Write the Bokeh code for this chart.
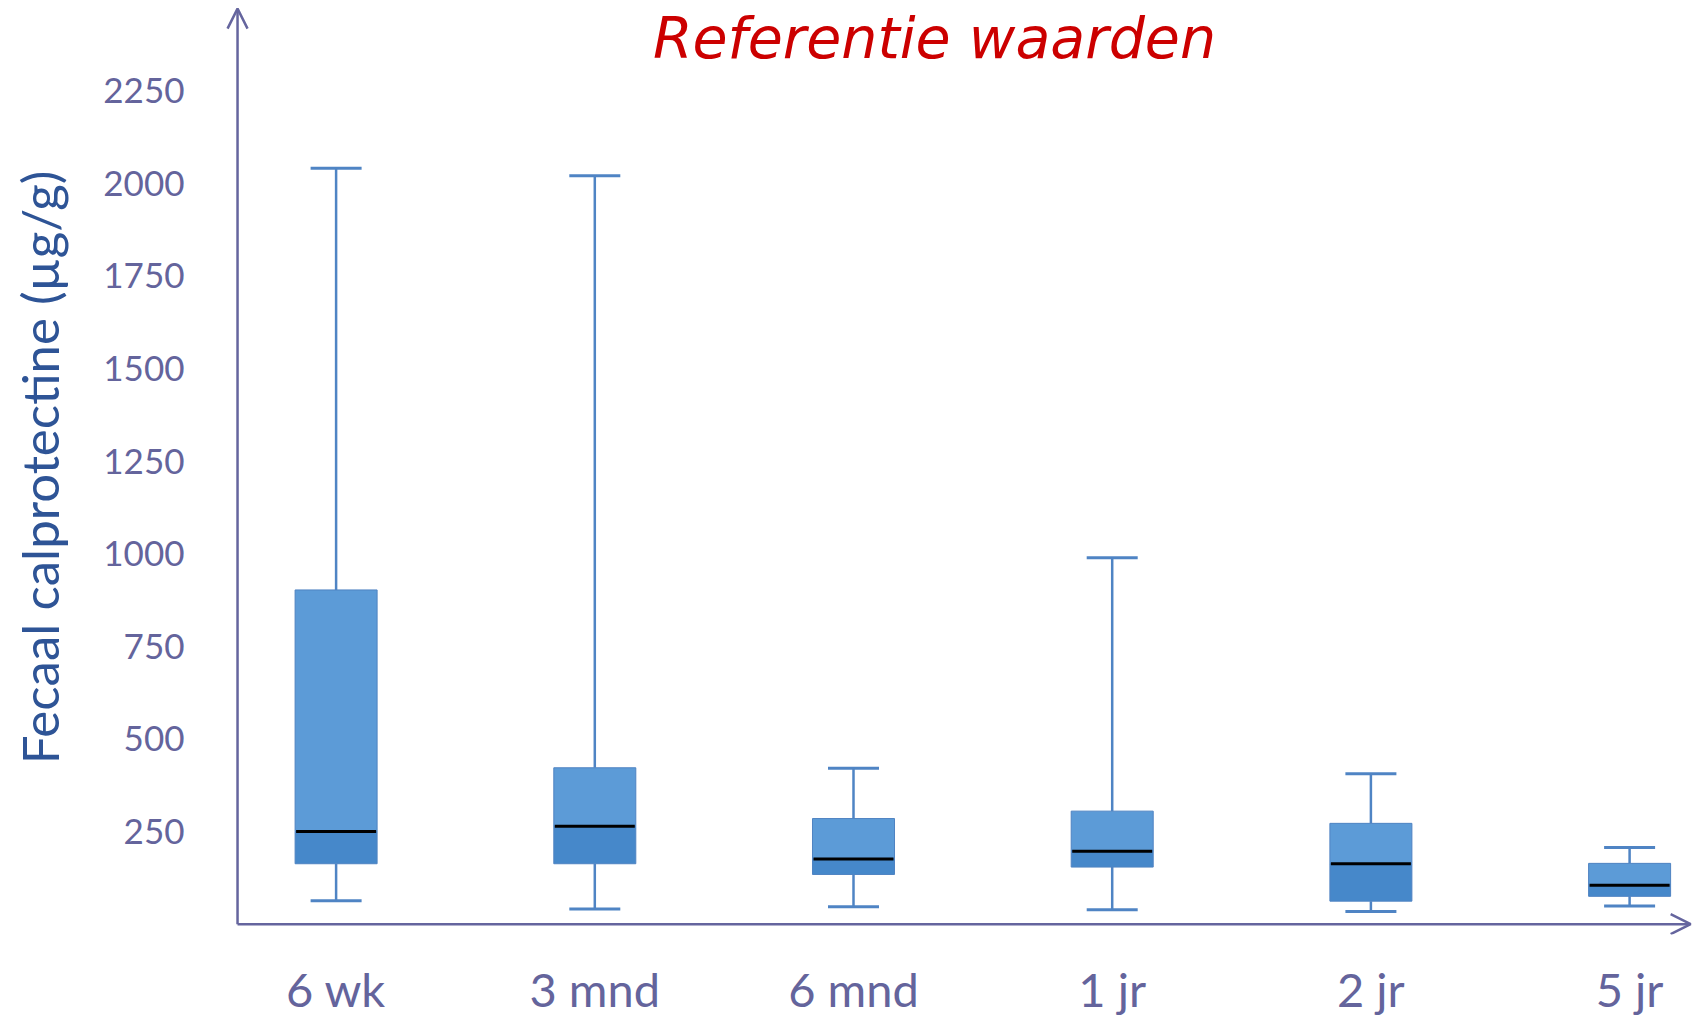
from bokeh.plotting import figure
from bokeh.models import Range1d, FixedTicker, Arrow, OpenHead, Label, ColumnDataSource
from bokeh.embed import file_html
from bokeh.resources import INLINE

# ---- data ----
categories = ["6 wk", "3 mnd", "6 mnd", "1 jr", "2 jr", "5 jr"]
whisker_low = [63, 41, 47, 39, 34, 49]
q1 = [163, 163, 134, 154, 62, 75]
median = [250, 264, 176, 197, 163, 105]
q3 = [902, 422, 285, 305, 272, 164]
whisker_high = [2040, 2020, 421, 989, 406, 207]
y_ticks = [250, 500, 750, 1000, 1250, 1500, 1750, 2000, 2250]

title_text = "Referentie waarden"
y_label = "Fecaal calprotectine (µg/g)"

# ---- styling ----
AX = "#65659E"
TICK_TXT = "#64649C"
YLAB = "#2E5496"
BOX_UP = "#5C9BD7"
BOX_LO = "#4688CA"
BOX_EDGE = "#4F83C2"
WHISK = "#4F84C4"
FONT = "Lato"

x = list(range(len(categories)))
src = ColumnDataSource(dict(x=x, cat=categories, lo=whisker_low, q1=q1, med=median,
                            q3=q3, hi=whisker_high))

# view window (frame) and where the drawn axis lines sit inside it
X0, X1 = -0.4314, 5.247
Y0, Y1 = -28, 2493
AXIS_X = -0.381
AXIS_Y = 0

p = figure(width=1693, height=1026, output_backend="svg", toolbar_location=None,
           x_range=Range1d(X0, X1), y_range=Range1d(Y0, Y1),
           min_border_left=224, min_border_right=0, min_border_top=0, min_border_bottom=92)
p.outline_line_color = None
p.grid.grid_line_color = None
p.background_fill_color = "white"
p.border_fill_color = "white"

# whiskers
p.segment(x0="x", y0="q3", x1="x", y1="hi", source=src, line_color=WHISK, line_width=2.5)
p.segment(x0="x", y0="q1", x1="x", y1="lo", source=src, line_color=WHISK, line_width=2.5)
p.scatter(x="x", y="hi", source=src, marker="dash", size=51, line_color=WHISK, line_width=3)
p.scatter(x="x", y="lo", source=src, marker="dash", size=51, line_color=WHISK, line_width=3)

# boxes
BW = 0.317
p.vbar(x="x", bottom="med", top="q3", width=BW, source=src, fill_color=BOX_UP,
       line_color=BOX_EDGE, line_width=1)
p.vbar(x="x", bottom="q1", top="med", width=BW, source=src, fill_color=BOX_LO,
       line_color=BOX_EDGE, line_width=1)
p.scatter(x="x", y="med", source=src, marker="dash", size=80, line_color="black", line_width=3)

# axes: labels only (lines drawn as arrows)
for ax in (p.xaxis, p.yaxis):
    ax.axis_line_color = None
    ax.major_tick_line_color = None
    ax.minor_tick_line_color = None
    ax.major_tick_in = 0
    ax.major_tick_out = 0
    ax.major_label_text_color = TICK_TXT
    ax.major_label_text_font = FONT

p.yaxis.ticker = FixedTicker(ticks=y_ticks)
p.yaxis.major_label_text_font_size = "35px"
p.yaxis.major_label_standoff = 40
p.yaxis.axis_label = y_label
p.yaxis.axis_label_text_font = FONT
p.yaxis.axis_label_text_font_size = "51px"
p.yaxis.axis_label_text_font_style = "normal"
p.yaxis.axis_label_text_color = YLAB
p.yaxis.axis_label_standoff = 30

p.xaxis.ticker = FixedTicker(ticks=x)
p.xaxis.major_label_overrides = {i: c for i, c in zip(x, categories)}
p.xaxis.major_label_text_font_size = "47px"
p.xaxis.major_label_standoff = 26

# axis lines with open arrow heads
p.add_layout(Arrow(end=OpenHead(size=20, line_color=AX, line_width=2.5),
                   x_start=AXIS_X, y_start=AXIS_Y, x_end=AXIS_X, y_end=2471,
                   line_color=AX, line_width=2.5))
p.add_layout(Arrow(end=OpenHead(size=20, line_color=AX, line_width=2.5),
                   x_start=AXIS_X, y_start=AXIS_Y, x_end=5.236, y_end=AXIS_Y,
                   line_color=AX, line_width=2.5))

# title
p.add_layout(Label(x=710, y=897, x_units="screen", y_units="screen", text=title_text,
                   text_align="center", text_baseline="alphabetic",
                   text_font="DejaVu Sans", text_font_style="italic",
                   text_font_size="57px", text_color="#CC0000"))

open("out.html", "w").write(file_html(p, INLINE))
